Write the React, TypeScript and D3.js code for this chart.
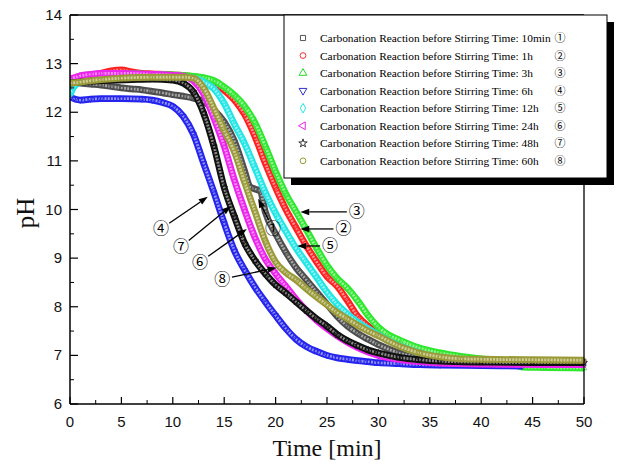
import React from 'react';
import * as d3 from 'd3';

type P = [number, number];

// ---- data: [time (min), pH] ----
const s10min: P[] = [[0,12.62],[1,12.6],[2,12.58],[3,12.56],[4,12.53],[5,12.5],[6,12.48],[7,12.46],[8,12.43],[9,12.4],[10,12.36],[11,12.33],[12,12.29],[13,12.22],[14,12.05],[15,11.8],[16,11.4],[17,10.78],[17.5,10.47],[18,10.42],[18.5,10.38],[19,9.95],[20,9.5],[21,9.12],[22,8.8],[23,8.55],[24,8.3],[25,8.05],[26,7.8],[27,7.6],[28,7.45],[29,7.33],[30,7.22],[32,7.05],[34,6.96],[36,6.92],[38,6.9],[40,6.89],[45,6.88],[50,6.88]];
const s1h: P[] = [[0,12.5],[0.5,12.63],[1,12.7],[2,12.76],[3,12.8],[4,12.85],[5,12.87],[6,12.83],[7,12.8],[8,12.79],[10,12.77],[12,12.73],[13,12.68],[14,12.6],[15,12.45],[16,12.25],[17,11.95],[18,11.5],[19,10.95],[20,10.45],[21,10.0],[22,9.62],[23,9.25],[24,8.92],[25,8.62],[26,8.42],[27,8.12],[28,7.8],[29,7.6],[30,7.45],[31,7.33],[32,7.22],[34,7.07],[36,6.98],[38,6.92],[40,6.89],[45,6.87],[50,6.86]];
const s3h: P[] = [[0,12.6],[0.5,12.7],[1,12.75],[3,12.78],[5,12.8],[8,12.78],[10,12.77],[12,12.74],[13,12.71],[14,12.65],[15,12.52],[16,12.35],[17,12.12],[18,11.78],[19,11.3],[20,10.78],[21,10.32],[22,9.95],[23,9.58],[24,9.2],[25,8.85],[26,8.58],[27,8.38],[28,8.12],[29,7.82],[30,7.58],[31,7.42],[32,7.32],[34,7.15],[36,7.05],[38,6.98],[40,6.93],[42,6.9],[43,6.84],[44,6.76],[46,6.75],[50,6.74]];
const s6h: P[] = [[0,12.32],[0.5,12.27],[1,12.25],[2,12.27],[3,12.28],[5,12.28],[7,12.27],[8,12.25],[9,12.2],[10,12.12],[11,11.92],[12,11.55],[13,10.95],[14,10.35],[15,9.72],[16,9.15],[17,8.75],[18,8.4],[19,8.1],[20,7.82],[21,7.55],[22,7.33],[23,7.18],[24,7.08],[25,7.0],[26,6.95],[27,6.92],[28,6.89],[29,6.87],[30,6.85],[32,6.83],[34,6.81],[36,6.8],[40,6.79],[44,6.78]];
const s12h: P[] = [[0,12.35],[0.3,12.5],[1,12.62],[2,12.68],[4,12.72],[6,12.73],[8,12.73],[10,12.72],[12,12.7],[13,12.62],[14,12.48],[15,12.18],[16,11.75],[17,11.35],[18,10.85],[19,10.35],[20,9.92],[21,9.55],[22,9.2],[23,8.9],[24,8.6],[25,8.3],[26,8.05],[27,7.85],[28,7.68],[29,7.55],[30,7.42],[31,7.3],[32,7.2],[34,7.05],[36,6.96],[38,6.9],[40,6.87],[45,6.84],[50,6.83]];
const s24h: P[] = [[0,12.68],[1,12.75],[2,12.78],[3,12.8],[5,12.8],[8,12.78],[10,12.76],[11,12.74],[12,12.65],[13,12.38],[14,11.88],[15,11.3],[16,10.6],[17,9.98],[18,9.42],[19,8.98],[20,8.68],[21,8.42],[22,8.15],[23,7.92],[24,7.72],[25,7.55],[26,7.4],[27,7.27],[28,7.16],[29,7.07],[30,7.0],[32,6.92],[34,6.87],[36,6.84],[40,6.82],[50,6.81]];
const s48h: P[] = [[0,12.6],[1,12.62],[2,12.64],[4,12.66],[6,12.67],[8,12.68],[10,12.66],[11,12.6],[12,12.42],[13,11.98],[14,11.3],[15,10.45],[16,9.85],[17,9.3],[18,8.95],[19,8.68],[20,8.45],[21,8.28],[22,8.1],[23,7.92],[24,7.75],[25,7.6],[26,7.43],[27,7.3],[28,7.2],[29,7.11],[30,7.05],[32,6.96],[34,6.91],[36,6.88],[40,6.86],[45,6.85],[50,6.85]];
const s60h: P[] = [[0,12.6],[1,12.62],[2,12.65],[3,12.67],[5,12.7],[8,12.72],[10,12.72],[11,12.72],[12,12.7],[13,12.5],[14,12.08],[15,11.62],[16,11.18],[17,10.55],[18,9.95],[19,9.35],[20,8.92],[21,8.7],[22,8.55],[23,8.37],[24,8.2],[25,8.04],[26,7.88],[27,7.75],[28,7.62],[29,7.5],[30,7.4],[32,7.19],[34,7.05],[36,6.97],[38,6.93],[40,6.92],[45,6.91],[50,6.9]];

const seriesData: P[][] = [s10min, s1h, s3h, s6h, s12h, s24h, s48h, s60h];
const stirTimes = ['10min', '1h', '3h', '6h', '12h', '24h', '48h', '60h'];
const circled = ['①', '②', '③', '④', '⑤', '⑥', '⑦', '⑧'];
const colors = ['#4e4e4e', '#ff2020', '#2ee82e', '#2424ee', '#22e6e6', '#ee22ee', '#111111', '#9a9a38'];
const legendColors = ['#555555', '#ff3030', '#22dd22', '#3030cc', '#22e6e6', '#ee22ee', '#333333', '#999933'];
const symbolTypes = [d3.symbolSquare, d3.symbolCircle, d3.symbolTriangle, d3.symbolTriangle, d3.symbolDiamond, d3.symbolTriangle, d3.symbolStar, d3.symbolCircle];
const symbolRotate = [0, 0, 0, 180, 0, -90, 0, 0];

const xTickValues = [0, 5, 10, 15, 20, 25, 30, 35, 40, 45, 50];
const yTickValues = [6, 7, 8, 9, 10, 11, 12, 13, 14];

// annotation arrows: [series index, tip time, tip pH, label time, label pH]
const annotations: [number, number, number, number, number][] = [
  [2, 22.4, 9.95, 27.9, 9.95],
  [1, 22.4, 9.6, 26.6, 9.6],
  [4, 22.1, 9.25, 25.3, 9.25],
  [0, 18.3, 10.22, 19.75, 9.6],
  [3, 13.4, 10.26, 8.85, 9.6],
  [6, 15.65, 10.07, 10.8, 9.23],
  [5, 17.2, 9.6, 12.65, 8.92],
  [7, 20.1, 8.8, 14.8, 8.57],
];

const X0 = 70, X1 = 584, Y0 = 15, Y1 = 404;

export default function App() {
  const x = d3.scaleLinear().domain([0, 50]).range([X0, X1]);
  const y = d3.scaleLinear().domain([6, 14]).range([Y1, Y0]);
  const line = d3.line<P>().x(d => x(d[0])).y(d => y(d[1])).curve(d3.curveMonotoneX);
  const xMinor = d3.range(2.5, 50, 5);
  const yMinor = d3.range(6.5, 14, 1);

  const lgX = 284, lgY = 15, lgW = 323, lgH = 163;
  const rowY = (i: number) => 38 + i * 17.55;

  return (
    <svg width={623} height={465} style={{ position: 'absolute', left: 0, top: 0, background: '#fff' }}>
      <rect x={0} y={0} width={623} height={465} fill="#fff" />
      <defs>
        <clipPath id="plotclip">
          <rect x={X0} y={Y0} width={X1 - X0 + 4} height={Y1 - Y0} />
        </clipPath>
      </defs>

      {/* series bands */}
      <g clipPath="url(#plotclip)">
        {seriesData.map((d, i) => (
          <g key={i}>
            <path d={line(d) || ''} fill="none" stroke={colors[i]} strokeWidth={6.8} strokeLinejoin="round" strokeLinecap="butt" />
            <path d={line(d) || ''} fill="none" stroke="#fff" strokeOpacity={0.5} strokeWidth={2.8} strokeDasharray="2 1.2" />
            {d.map((p, j) => (
              <path key={j}
                d={d3.symbol().type(symbolTypes[i]).size(14)() || ''}
                transform={`translate(${x(p[0])},${y(p[1])}) rotate(${symbolRotate[i]})`}
                fill="none" stroke={colors[i]} strokeWidth={0.8} />
            ))}
          </g>
        ))}
      </g>

      {/* axes frame */}
      <line x1={X0} y1={Y0} x2={X1} y2={Y0} stroke="#000" strokeWidth={1.3} />
      <line x1={X1} y1={Y0} x2={X1} y2={Y1} stroke="#000" strokeWidth={1.3} />
      <line x1={X0} y1={Y1} x2={X1} y2={Y1} stroke="#000" strokeWidth={1.5} />
      <line x1={X0} y1={Y0} x2={X0} y2={Y1} stroke="#000" strokeWidth={1.5} />

      {/* x ticks */}
      {xTickValues.map(v => (
        <g key={'xt' + v}>
          <line x1={x(v)} x2={x(v)} y1={Y1} y2={Y1 - 7} stroke="#000" strokeWidth={1.2} />
          <text x={x(v)} y={427} textAnchor="middle" fontFamily="'Liberation Sans', Arial, sans-serif" fontSize={15} fill="#111">{v}</text>
        </g>
      ))}
      {xMinor.map(v => (
        <line key={'xm' + v} x1={x(v)} x2={x(v)} y1={Y1} y2={Y1 - 4} stroke="#000" strokeWidth={1} />
      ))}
      {/* y ticks */}
      {yTickValues.map(v => (
        <g key={'yt' + v}>
          <line x1={X0} x2={X0 + 8} y1={y(v)} y2={y(v)} stroke="#000" strokeWidth={1.2} />
          <text x={62} y={y(v) + 5} textAnchor="end" fontFamily="'Liberation Sans', Arial, sans-serif" fontSize={15} fill="#111">{v}</text>
        </g>
      ))}
      {yMinor.map(v => (
        <line key={'ym' + v} x1={X0} x2={X0 + 4} y1={y(v)} y2={y(v)} stroke="#000" strokeWidth={1} />
      ))}

      {/* axis titles */}
      <text x={(X0 + X1) / 2} y={456} textAnchor="middle" fontFamily="'Liberation Serif', 'Times New Roman', serif" fontSize={24} fill="#111">Time [min]</text>
      <text transform={`translate(34,213) rotate(-90)`} textAnchor="middle" fontFamily="'Liberation Serif', 'Times New Roman', serif" fontSize={25} fill="#111">pH</text>

      {/* annotations */}
      {annotations.map((a, k) => {
        const tx = x(a[1]), ty = y(a[2]), lx = x(a[3]), ly = y(a[4]);
        const dx = tx - lx, dy = ty - ly;
        const len = Math.hypot(dx, dy);
        const ux = dx / len, uy = dy / len;
        const sx = lx + ux * 10, sy = ly + uy * 10;
        const hl = 9, hw = 3.2;
        const bx = tx - ux * hl, by = ty - uy * hl;
        const head = `${tx},${ty} ${bx - uy * hw},${by + ux * hw} ${bx + uy * hw},${by - ux * hw}`;
        return (
          <g key={'an' + k}>
            <line x1={sx} y1={sy} x2={bx} y2={by} stroke="#000" strokeWidth={1.3} />
            <polygon points={head} fill="#000" />
            <text x={lx} y={ly + 5.5} textAnchor="middle" fontFamily="'Noto Sans CJK JP', 'DejaVu Sans', sans-serif" fontSize={16} fill="#000">{circled[a[0]]}</text>
          </g>
        );
      })}

      {/* legend */}
      <rect x={lgX + 7} y={lgY + 7} width={lgW} height={lgH} fill="#000" />
      <rect x={lgX} y={lgY} width={lgW} height={lgH} fill="#fff" stroke="#000" strokeWidth={1} />
      {stirTimes.map((s, i) => (
        <g key={'lg' + i}>
          <path d={d3.symbol().type(symbolTypes[i]).size(i === 6 ? 22 : 26)() || ''}
            transform={`translate(303,${rowY(i)}) rotate(${symbolRotate[i]})`}
            fill="none" stroke={legendColors[i]} strokeWidth={1} />
          <text x={320} y={rowY(i) + 4} fontFamily="'Liberation Serif', 'Times New Roman', serif" fontSize={11.4} fill="#000">
            {'Carbonation Reaction before Stirring Time: ' + s}
          </text>
          <text x={560} y={rowY(i) + 4} textAnchor="middle" fontFamily="'Noto Sans CJK JP', 'DejaVu Sans', sans-serif" fontSize={11} fill="#000">{circled[i]}</text>
        </g>
      ))}
    </svg>
  );
}
